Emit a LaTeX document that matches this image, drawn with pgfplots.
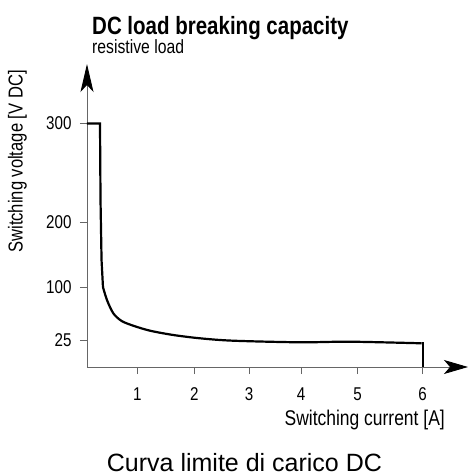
\documentclass[border=0pt]{standalone}
\usepackage{fontspec}
\setmainfont{Liberation Sans}
\newfontfamily\cond[FakeStretch=0.82]{Liberation Sans}
\usepackage{pgfplots}
\pgfplotsset{compat=1.18}
\usetikzlibrary{arrows.meta}
\begin{document}
\begin{tikzpicture}
\begin{axis}[
  scale only axis, width=381pt, height=303pt,
  xmin=0.119, xmax=6.794, ymin=0, ymax=303,
  axis lines=left,
  axis line style={line width=0.9pt, color=black!60},
  x axis line style={-{Stealth[length=24pt,width=14pt,inset=6pt,black]}},
  y axis line style={-{Stealth[length=28pt,width=13pt,inset=7pt,black]}},
  xtick={1,2,2.96,3.87,4.86,6}, xticklabels={1,2,3,4,5,6},
  ytick={27,80,145,243.5}, yticklabels={25,100,200,300},
  tick align=outside, major tick length=7pt,
  tick style={black!60, line width=0.9pt},
  ticklabel style={font=\cond\fontsize{18.5}{20}\selectfont},
  xticklabel style={anchor=north, text height=13pt, text depth=0pt, inner sep=0pt, yshift=-13pt},
  yticklabel style={xshift=-5pt},
  /pgf/number format/assume math mode=true,
  clip=false,
]
\addplot[black, line width=2.2pt, line join=miter] coordinates {
  (0.119,243.5) (0.347,243.5) (0.356,167) (0.374,107) (0.399,80)
};
\addplot[black, line width=2.2pt, smooth, tension=0.5] coordinates {
  (0.399,80) (0.469,67) (0.580,53.7) (0.727,46) (0.930,41.3) (1.223,36.3)
  (1.631,32) (2.099,28.7) (2.677,26.3) (3.851,24.7) (4.727,25.3) (5.983,23.7)
};
\addplot[black, line width=2.2pt, line join=miter] coordinates {
  (5.983,23.7) (6.0,23.7) (6.0,0)
};
\node[anchor=base west, inner sep=0, font=\cond\bfseries\fontsize{25}{28}\selectfont] at (axis cs:0.207,332.7) {DC load breaking capacity};
\node[anchor=base west, inner sep=0, font=\cond\fontsize{19.2}{22}\selectfont] at (axis cs:0.207,313.7) {resistive load};
\node[rotate=90, inner sep=0, font=\cond\fontsize{20.2}{22}\selectfont] at (axis cs:-1.098,205.5) {Switching voltage [V DC]};
\node[anchor=base east, inner sep=0, font=\cond\fontsize{21.3}{24}\selectfont] at (axis cs:6.391,-58) {Switching current [A]};
\node[anchor=base, inner sep=0, font=\fontsize{25}{30}\selectfont] at (axis cs:2.878,-104.5) {Curva limite di carico DC};
\path (axis cs:-1.405,-109) rectangle (axis cs:6.811,367);
\end{axis}
\end{tikzpicture}
\end{document}
